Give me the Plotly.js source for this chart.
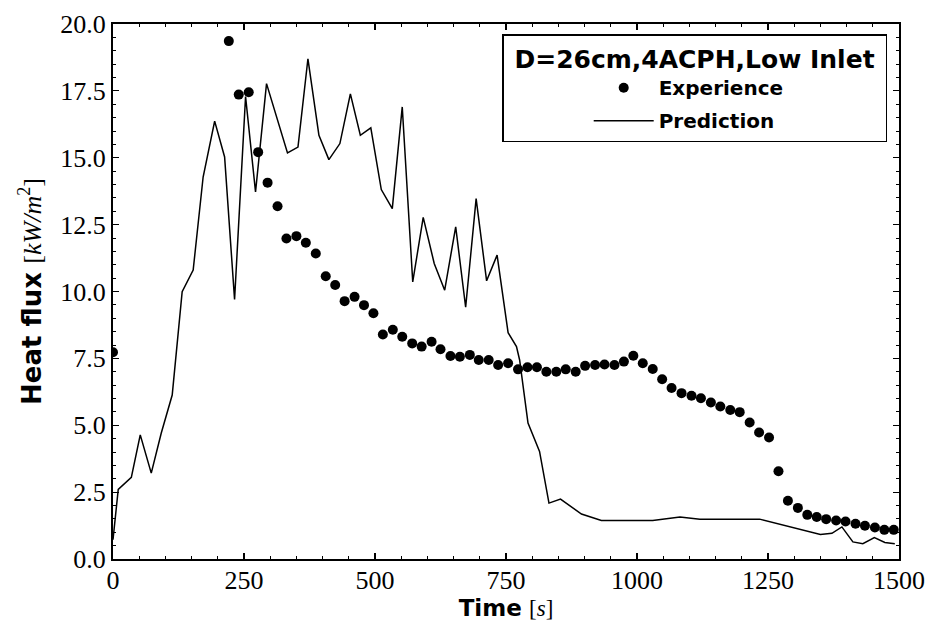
<!DOCTYPE html>
<html>
<head>
<meta charset="utf-8">
<script src="https://cdn.plot.ly/plotly-3.0.1.min.js"></script>
<style>
  html, body { margin: 0; padding: 0; background: #ffffff; }
  #chart { width: 928px; height: 630px; }
</style>
</head>
<body>
<div id="chart"></div>
<script>
// Experience (measured) heat flux
const timeExp = [0, 221, 240, 259, 277, 295, 314, 331, 350, 368, 387, 406, 424, 442, 461, 479, 497,
  515, 534, 552, 571, 589, 608, 625, 644, 662, 681, 698, 717, 735, 754, 773, 791, 809, 827, 846,
  864, 883, 901, 920, 938, 957, 975, 993, 1011, 1030, 1048, 1066, 1085, 1104, 1122, 1141, 1159,
  1178, 1196, 1215, 1233, 1252, 1270, 1288, 1307, 1325, 1343, 1361, 1380, 1398, 1417, 1435, 1454,
  1472, 1490];
const fluxExp = [7.73, 19.36, 17.36, 17.45, 15.21, 14.07, 13.19, 11.98, 12.07, 11.82, 11.42, 10.57,
  10.24, 9.64, 9.8, 9.49, 9.19, 8.39, 8.57, 8.31, 8.06, 7.94, 8.12, 7.84, 7.59, 7.56, 7.63, 7.44,
  7.44, 7.25, 7.32, 7.09, 7.17, 7.17, 7.0, 7.0, 7.09, 7.0, 7.22, 7.25, 7.27, 7.25, 7.38, 7.6, 7.32,
  7.1, 6.72, 6.39, 6.2, 6.1, 6.01, 5.85, 5.7, 5.57, 5.49, 5.1, 4.73, 4.54, 3.28, 2.18, 1.91, 1.65,
  1.57, 1.49, 1.44, 1.4, 1.32, 1.24, 1.18, 1.09, 1.09];

// Prediction heat flux
const timePred = [0, 10, 35, 52, 73, 92, 113, 132, 153, 172, 194, 213, 232, 253, 272, 293, 333, 353,
  372, 393, 412, 433, 453, 472, 492, 512, 533, 552, 572, 592, 613, 633, 654, 673, 693, 713, 733,
  754, 770, 776, 792, 814, 832, 854, 894, 932, 1030, 1082, 1120, 1151, 1234, 1350, 1372, 1391,
  1412, 1431, 1453, 1473, 1492];
const fluxPred = [0.72, 2.6, 3.05, 4.64, 3.21, 4.7, 6.13, 9.99, 10.8, 14.28, 16.37, 15.03, 9.7,
  17.29, 13.72, 17.77, 15.18, 15.4, 18.7, 15.84, 14.93, 15.53, 17.39, 15.84, 16.12, 13.81, 13.1,
  16.9, 10.36, 12.77, 11.05, 10.05, 12.42, 9.41, 13.47, 10.4, 11.36, 8.46, 7.94, 7.44, 5.08, 4.02,
  2.09, 2.24, 1.68, 1.44, 1.44, 1.57, 1.49, 1.49, 1.49, 0.92, 0.96, 1.2, 0.64, 0.57, 0.8, 0.62, 0.57];

const seriesNames = ["Experience", "Prediction"];
const legendTitle = "D=26cm,4ACPH,Low Inlet";
const xTickVals = [0, 250, 500, 750, 1000, 1250, 1500];
const yTickVals = [0, 2.5, 5, 7.5, 10, 12.5, 15, 17.5, 20];
const xTitle = "<b>Time</b> <span style=\"font-family:'Liberation Serif';font-weight:normal\">[<i>s</i>]</span>";
const yTitle = "<b>Heat flux</b> <span style=\"font-family:'Liberation Serif';font-weight:normal\">[<i>kW/m</i><sup>2</sup>]</span>";

const traces = [
  {
    x: timeExp, y: fluxExp, name: seriesNames[0], type: 'scatter', mode: 'markers',
    marker: { color: '#000000', size: 10 }, legendgroup: 'a'
  },
  {
    x: timePred, y: fluxPred, name: seriesNames[1], type: 'scatter', mode: 'lines',
    line: { color: '#000000', width: 1.5 }, legendgroup: 'b'
  }
];

const tickFont = { family: "'Liberation Serif', serif", size: 26, color: '#000000' };

const layout = {
  width: 928, height: 630,
  paper_bgcolor: '#ffffff', plot_bgcolor: '#ffffff',
  font: { family: "'DejaVu Sans', sans-serif", color: '#000000' },
  margin: { l: 113, r: 29, t: 24, b: 71, pad: 0 },
  showlegend: true,
  xaxis: {
    range: [0, 1500], tickvals: xTickVals, ticktext: xTickVals.map(String),
    ticks: 'inside', ticklen: 6, tickwidth: 1.2, tickcolor: '#000000',
    minor: { dtick: 50, tick0: 0, ticks: 'inside', ticklen: 3, tickwidth: 1, tickcolor: '#000000' },
    showline: true, linecolor: '#000000', linewidth: 2, mirror: 'allticks',
    showgrid: false, zeroline: false, tickfont: tickFont, ticklabelstandoff: -3,
    title: { text: xTitle, font: { size: 23, color: '#000000' }, standoff: 0 },
    automargin: false
  },
  yaxis: {
    range: [0, 20], tickvals: yTickVals, ticktext: yTickVals.map(v => v.toFixed(1)),
    ticks: 'inside', ticklen: 6, tickwidth: 1.2, tickcolor: '#000000',
    minor: { dtick: 0.5, tick0: 0, ticks: 'inside', ticklen: 3, tickwidth: 1, tickcolor: '#000000' },
    showline: true, linecolor: '#000000', linewidth: 2, mirror: 'allticks',
    showgrid: false, zeroline: false, tickfont: tickFont,
    title: { text: yTitle, font: { size: 26, color: '#000000' }, standoff: 11 },
    automargin: false
  },
  legend: {
    x: 0.985, xanchor: 'right', y: 0.981, yanchor: 'top',
    bgcolor: '#ffffff', bordercolor: '#000000', borderwidth: 1.5,
    font: { family: "'DejaVu Sans', sans-serif", size: 20, color: '#000000', weight: 'bold' },
    title: { text: '&nbsp;<b>' + legendTitle + '</b>&nbsp;', font: { family: "'DejaVu Sans', sans-serif", size: 25, color: '#000000' }, side: 'top' },
    traceorder: 'grouped', tracegroupgap: 4, indentation: 85, itemwidth: 60
  }
};

Plotly.newPlot('chart', traces, layout, { staticPlot: true, displayModeBar: false });
</script>
</body>
</html>
